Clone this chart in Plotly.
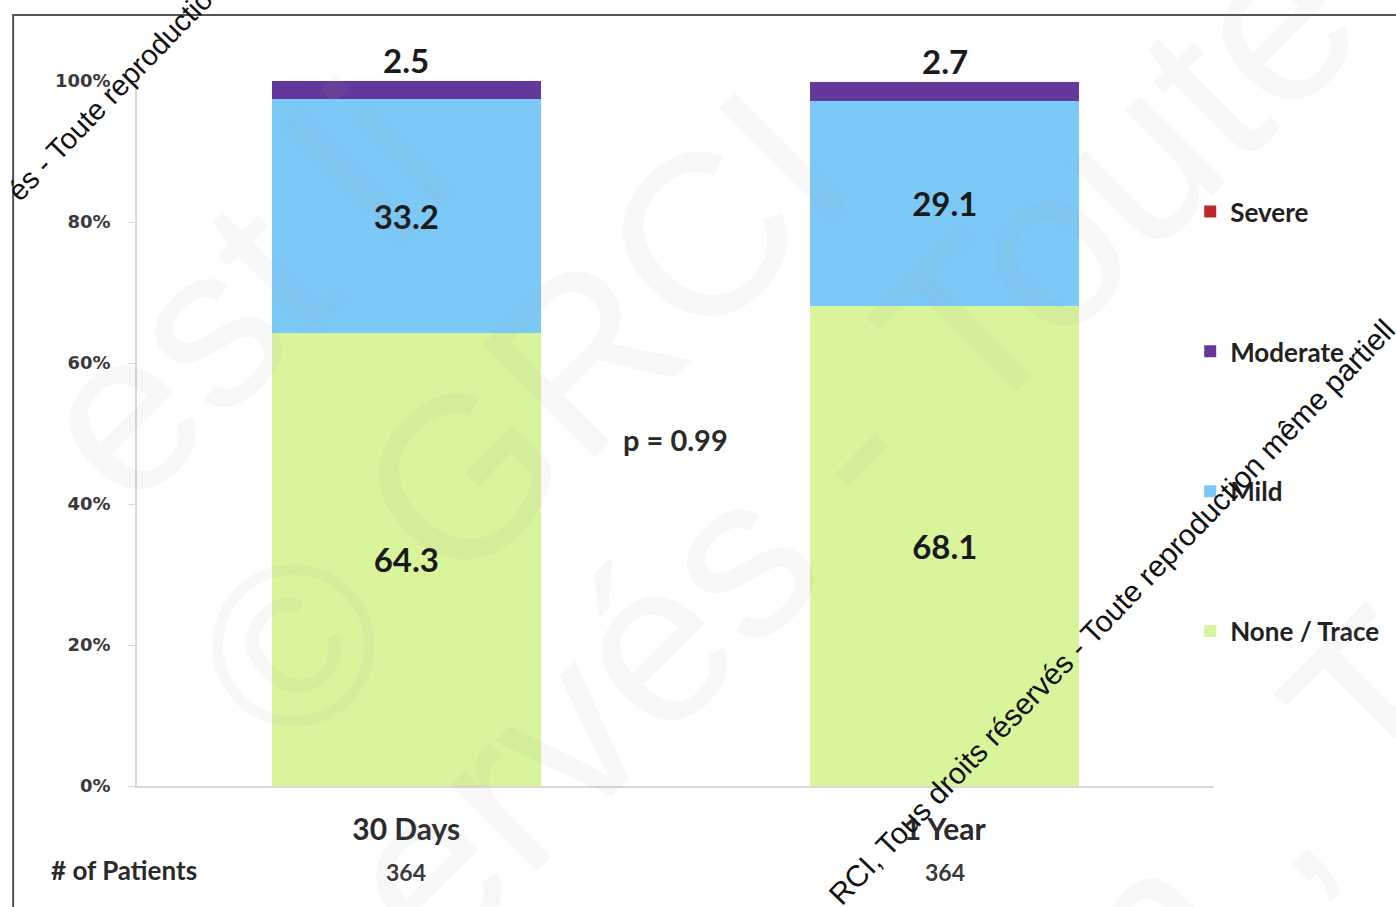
import plotly.graph_objects as go

# Severity distribution at each follow-up visit (% of patients)
timepoints = ["30 Days", "1 Year"]
patients = [364, 364]
none_trace = [64.3, 68.1]
mild = [33.2, 29.1]
moderate = [2.5, 2.7]
severe = [0.0, 0.0]
p_value_text = "p = 0.99"

y_ticks = [0, 20, 40, 60, 80, 100]
y_tick_labels = ["0%", "20%", "40%", "60%", "80%", "100%"]

FONT = "Lato"
DARK = "#1a1a1a"

colors = {
    "None / Trace": "#d9f59b",
    "Mild": "#7cc9f8",
    "Moderate": "#65399b",
    "Severe": "#c0272d",
}

fig = go.Figure()

# (name, values, label inside segment, legend rank: Severe listed first)
series = [
    ("None / Trace", none_trace, True, 4),
    ("Mild", mild, True, 3),
    ("Moderate", moderate, False, 2),
    ("Severe", severe, False, 1),
]
for name, vals, labelled, rank in series:
    fig.add_trace(go.Bar(
        x=timepoints,
        y=vals,
        name=name,
        legendgroup=name,
        legendrank=rank,
        marker=dict(color=colors[name], line=dict(width=0)),
        text=[f"{v:.1f}" for v in vals] if labelled else None,
        textposition="inside" if labelled else "none",
        insidetextanchor="middle",
        textfont=dict(family=FONT, size=33, color=DARK, weight="bold"),
        hoverinfo="skip",
    ))

annotations = []

# Faint copyright watermark lettering (drawn first, beneath the other labels)
faint = [
    ("est li", 0.096, 0.70),
    ("© GRCI", 0.355, 0.52),
    ("ervés - Toute", 0.66, 0.48),
    ("n , To", 1.08, 0.01),
]
for txt, px, py in faint:
    annotations.append(dict(
        x=px, y=py, xref="paper", yref="paper", text=txt, showarrow=False,
        xanchor="center", yanchor="middle", textangle=-45,
        font=dict(family="Liberation Sans", size=230, color="rgba(150,150,150,0.08)"),
    ))

# Moderate share printed above each stack
for tp, a, b, c, d in zip(timepoints, none_trace, mild, moderate, severe):
    annotations.append(dict(
        x=tp, y=a + b + c + d, xref="x", yref="y",
        text=f"{c:.1f}", showarrow=False, yanchor="bottom", yshift=-1,
        font=dict(family=FONT, size=33, color=DARK, weight="bold"),
    ))

# Patient counts below the category labels
annotations.append(dict(
    x=-0.012, y=-0.119, xref="paper", yref="paper", text="# of Patients",
    showarrow=False, xanchor="center", yanchor="middle",
    font=dict(family=FONT, size=26, color="#2a2a2a", weight="bold"),
))
for tp, n in zip(timepoints, patients):
    annotations.append(dict(
        x=tp, y=-0.122, xref="x", yref="paper", text=str(n),
        showarrow=False, yanchor="middle",
        font=dict(family=FONT, size=23, color="#3a3a3a", weight="bold"),
    ))

# Test result between the bars
annotations.append(dict(
    x=0.5, y=49.1, xref="x", yref="y", text=p_value_text, showarrow=False,
    font=dict(family=FONT, size=29, color="#2a2a2a", weight="bold"),
))

# Dark diagonal copyright notices
annotations.append(dict(
    x=(1112 - 137) / 1078, y=(786 - 612) / 705, xref="paper", yref="paper",
    xanchor="center", yanchor="middle",
    text="RCI, Tous droits réservés - Toute reproduction même partiell",
    showarrow=False, textangle=-46,
    font=dict(family="Liberation Sans", size=30, color="#111111"),
))
annotations.append(dict(
    x=(110 - 137) / 1078, y=(786 - 95) / 705, xref="paper", yref="paper",
    xanchor="center", yanchor="middle",
    text="és - Toute reproductio",
    showarrow=False, textangle=-46,
    font=dict(family="Liberation Sans", size=29, color="#111111"),
))

fig.update_layout(
    width=1396,
    height=907,
    barmode="stack",
    bargap=0.5,
    paper_bgcolor="white",
    plot_bgcolor="white",
    margin=dict(l=137, r=181, t=81, b=121),
    font=dict(family=FONT, color=DARK),
    showlegend=True,
    legend=dict(
        x=0.977, y=0.848, xanchor="left", yanchor="top",
        traceorder="grouped",
        tracegroupgap=103,
        font=dict(family=FONT, size=26, color="#222222", weight="bold"),
        bgcolor="rgba(0,0,0,0)",
    ),
    annotations=annotations,
    shapes=[dict(
        type="rect", xref="paper", yref="paper",
        x0=(13 - 137) / 1078, x1=1.4, y0=-0.4, y1=(786 - 15) / 705,
        line=dict(color="#555555", width=2), layer="below",
    )],
)

fig.update_xaxes(
    showline=True, linecolor="#d9d9d9", linewidth=1.5,
    showgrid=False, zeroline=False, ticks="",
    tickfont=dict(family=FONT, size=30, color="#2a2a2a", weight="bold"),
    ticklabelstandoff=16,
)
fig.update_yaxes(
    range=[0, 100],
    tickvals=y_ticks, ticktext=y_tick_labels,
    showline=True, linecolor="#d9d9d9", linewidth=1.5,
    showgrid=False, zeroline=False,
    ticks="outside", ticklen=7, tickcolor="#d9d9d9",
    tickfont=dict(family="DejaVu Sans", size=18, color="#3a3a3a", weight="bold"),
    ticklabelstandoff=14,
)

fig.write_html("out.html")
